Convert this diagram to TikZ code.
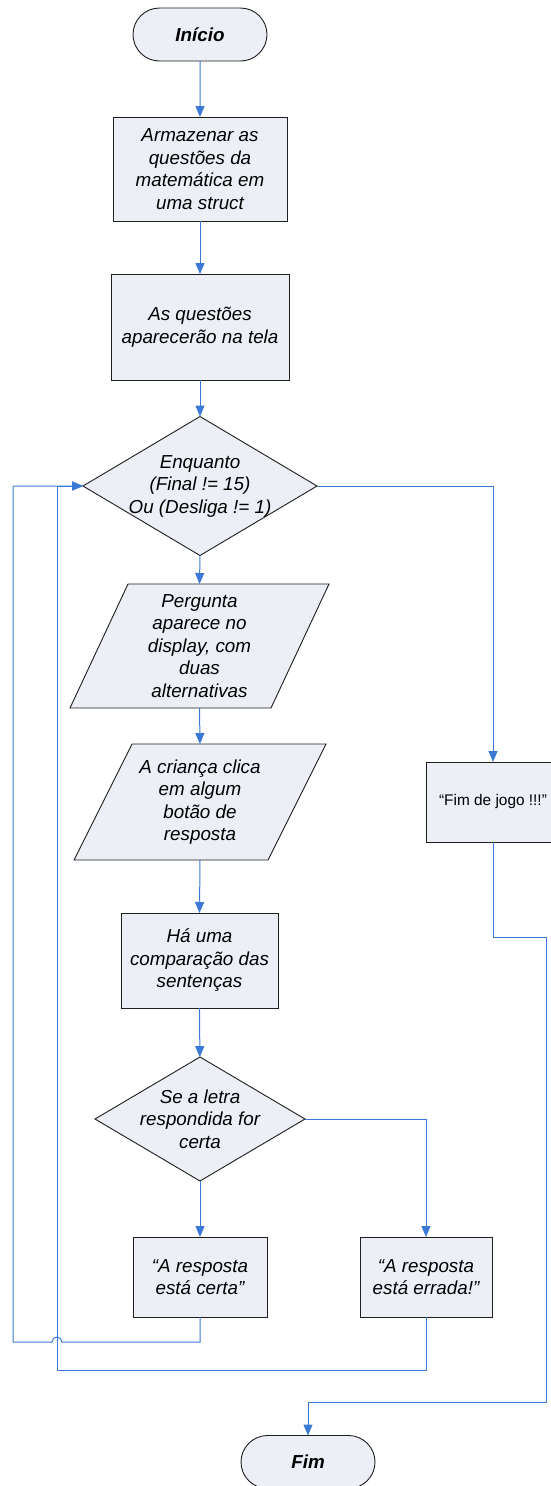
\documentclass[tikz,border=0pt]{standalone}
\usepackage{fontspec}
\setmainfont{Liberation Sans}
\usetikzlibrary{shapes.geometric,shapes.misc,arrows.meta}
\definecolor{boxfill}{RGB}{236,239,245}
\definecolor{boxline}{RGB}{30,30,30}
\definecolor{flow}{RGB}{58,122,214}
\begin{document}
\begin{tikzpicture}[x=1pt,y=1pt,
  every node/.style={inner sep=0pt,outer sep=0pt},
  shapebase/.style={draw=boxline,fill=boxfill,line width=0.9pt},
  procbox/.style={shapebase,rectangle},
  termbox/.style={shapebase,rounded rectangle,minimum width=134pt,minimum height=53pt,
    font=\fontsize{18.8}{22.5}\selectfont\bfseries\itshape},
  decbox/.style={shapebase,diamond},
  iofield/.style={rectangle},
  txt/.style={align=center,font=\fontsize{18.8}{22.5}\selectfont\itshape},
  flowline/.style={draw=flow,line width=1pt},
  flowarrow/.style={flowline,-{Triangle[length=11pt,width=9pt]}}
]
\useasboundingbox (0,0) rectangle (551,-1486);

% terminals
\node[termbox] (ini) at (200,-34.5) {Início};
\node[termbox] (fim) at (308,-1462) {Fim};

% process boxes
\node[procbox,minimum width=174pt,minimum height=104pt,txt] (b1) at (200,-169)
  {Armazenar as\\questões da\\matemática em\\uma struct};
\node[procbox,minimum width=178pt,minimum height=106pt,txt] (b2) at (200,-327)
  {As questões\\aparecerão na tela};

% loop condition
\node[decbox,minimum width=234pt,minimum height=139pt] (d1) at (200,-486) {};
\node[txt] (d1t) at (d1) {Enquanto\\(Final != 15)\\Ou (Desliga != 1)};

% input/output steps: a mid-width field, drawn as a right-leaning parallelogram
\node[iofield,minimum width=201pt,minimum height=124pt] (p1) at (199.5,-646) {};
\draw[shapebase] ([xshift=29pt]p1.north west) -- ([xshift=29pt]p1.north east)
  -- ([xshift=-29pt]p1.south east) -- ([xshift=-29pt]p1.south west) -- cycle;
\node[txt] (p1t) at (p1) {Pergunta\\aparece no\\display, com\\duas\\alternativas};

\node[iofield,minimum width=194pt,minimum height=116pt] (p2) at (200,-802) {};
\draw[shapebase] ([xshift=29pt]p2.north west) -- ([xshift=29pt]p2.north east)
  -- ([xshift=-29pt]p2.south east) -- ([xshift=-29pt]p2.south west) -- cycle;
\node[txt] (p2t) at (p2) {A criança clica\\em algum\\botão de\\resposta};

\node[procbox,minimum width=157pt,minimum height=95pt,txt] (b3) at (199.5,-960.5)
  {Há uma\\comparação das\\sentenças};

% answer check
\node[decbox,minimum width=210pt,minimum height=124pt] (d2) at (200,-1119) {};
\node[txt] (d2t) at (d2) {Se a letra\\respondida for\\certa};

\node[procbox,minimum width=134pt,minimum height=80pt,txt] (bc) at (200,-1277)
  {“A resposta\\está certa”};
\node[procbox,minimum width=132pt,minimum height=80pt,txt] (be) at (426,-1277)
  {“A resposta\\está errada!”};

% end-of-game message
\node[procbox,minimum width=134pt,minimum height=80pt,
  font=\fontsize{15.4}{18}\selectfont] (bf) at (493,-802) {“Fim de jogo !!!”};

% routing points
\coordinate (hopR) at (62,-1342);
\coordinate (outerL) at (13,-1342);
\coordinate (innerB) at (57,-1370);
\coordinate (innerT) at (57,-486);
\coordinate (endA) at (493,-937);
\coordinate (endB) at (546,-937);
\coordinate (endC) at (546,-1402);

% main flow
\draw[flowarrow] (ini) -- (b1);
\draw[flowarrow] (b1) -- (b2);
\draw[flowarrow] (b2) -- (d1);
\draw[flowarrow] (d1.south) -- (p1.north);
\draw[flowarrow] (p1.south) -- (p2.north);
\draw[flowarrow] (p2.south) -- (b3.north);
\draw[flowarrow] (b3) -- (d2);
\draw[flowarrow] (d2.south) -- (bc.north);
\draw[flowarrow] (d2.east) -| (be.north);
\draw[flowarrow] (d1.east) -| (bf.north);

% back to the loop condition
\draw[flowarrow] (bc.south) |- (hopR) arc[start angle=0,end angle=180,radius=5pt]
  -- (outerL) |- (d1.west);
\draw[flowarrow] (be.south) |- (innerB) -- (innerT) -- (d1.west);

% game over to end
\draw[flowarrow] (bf.south) -- (endA) -- (endB) -- (endC) -| (fim.north);
\end{tikzpicture}
\end{document}
